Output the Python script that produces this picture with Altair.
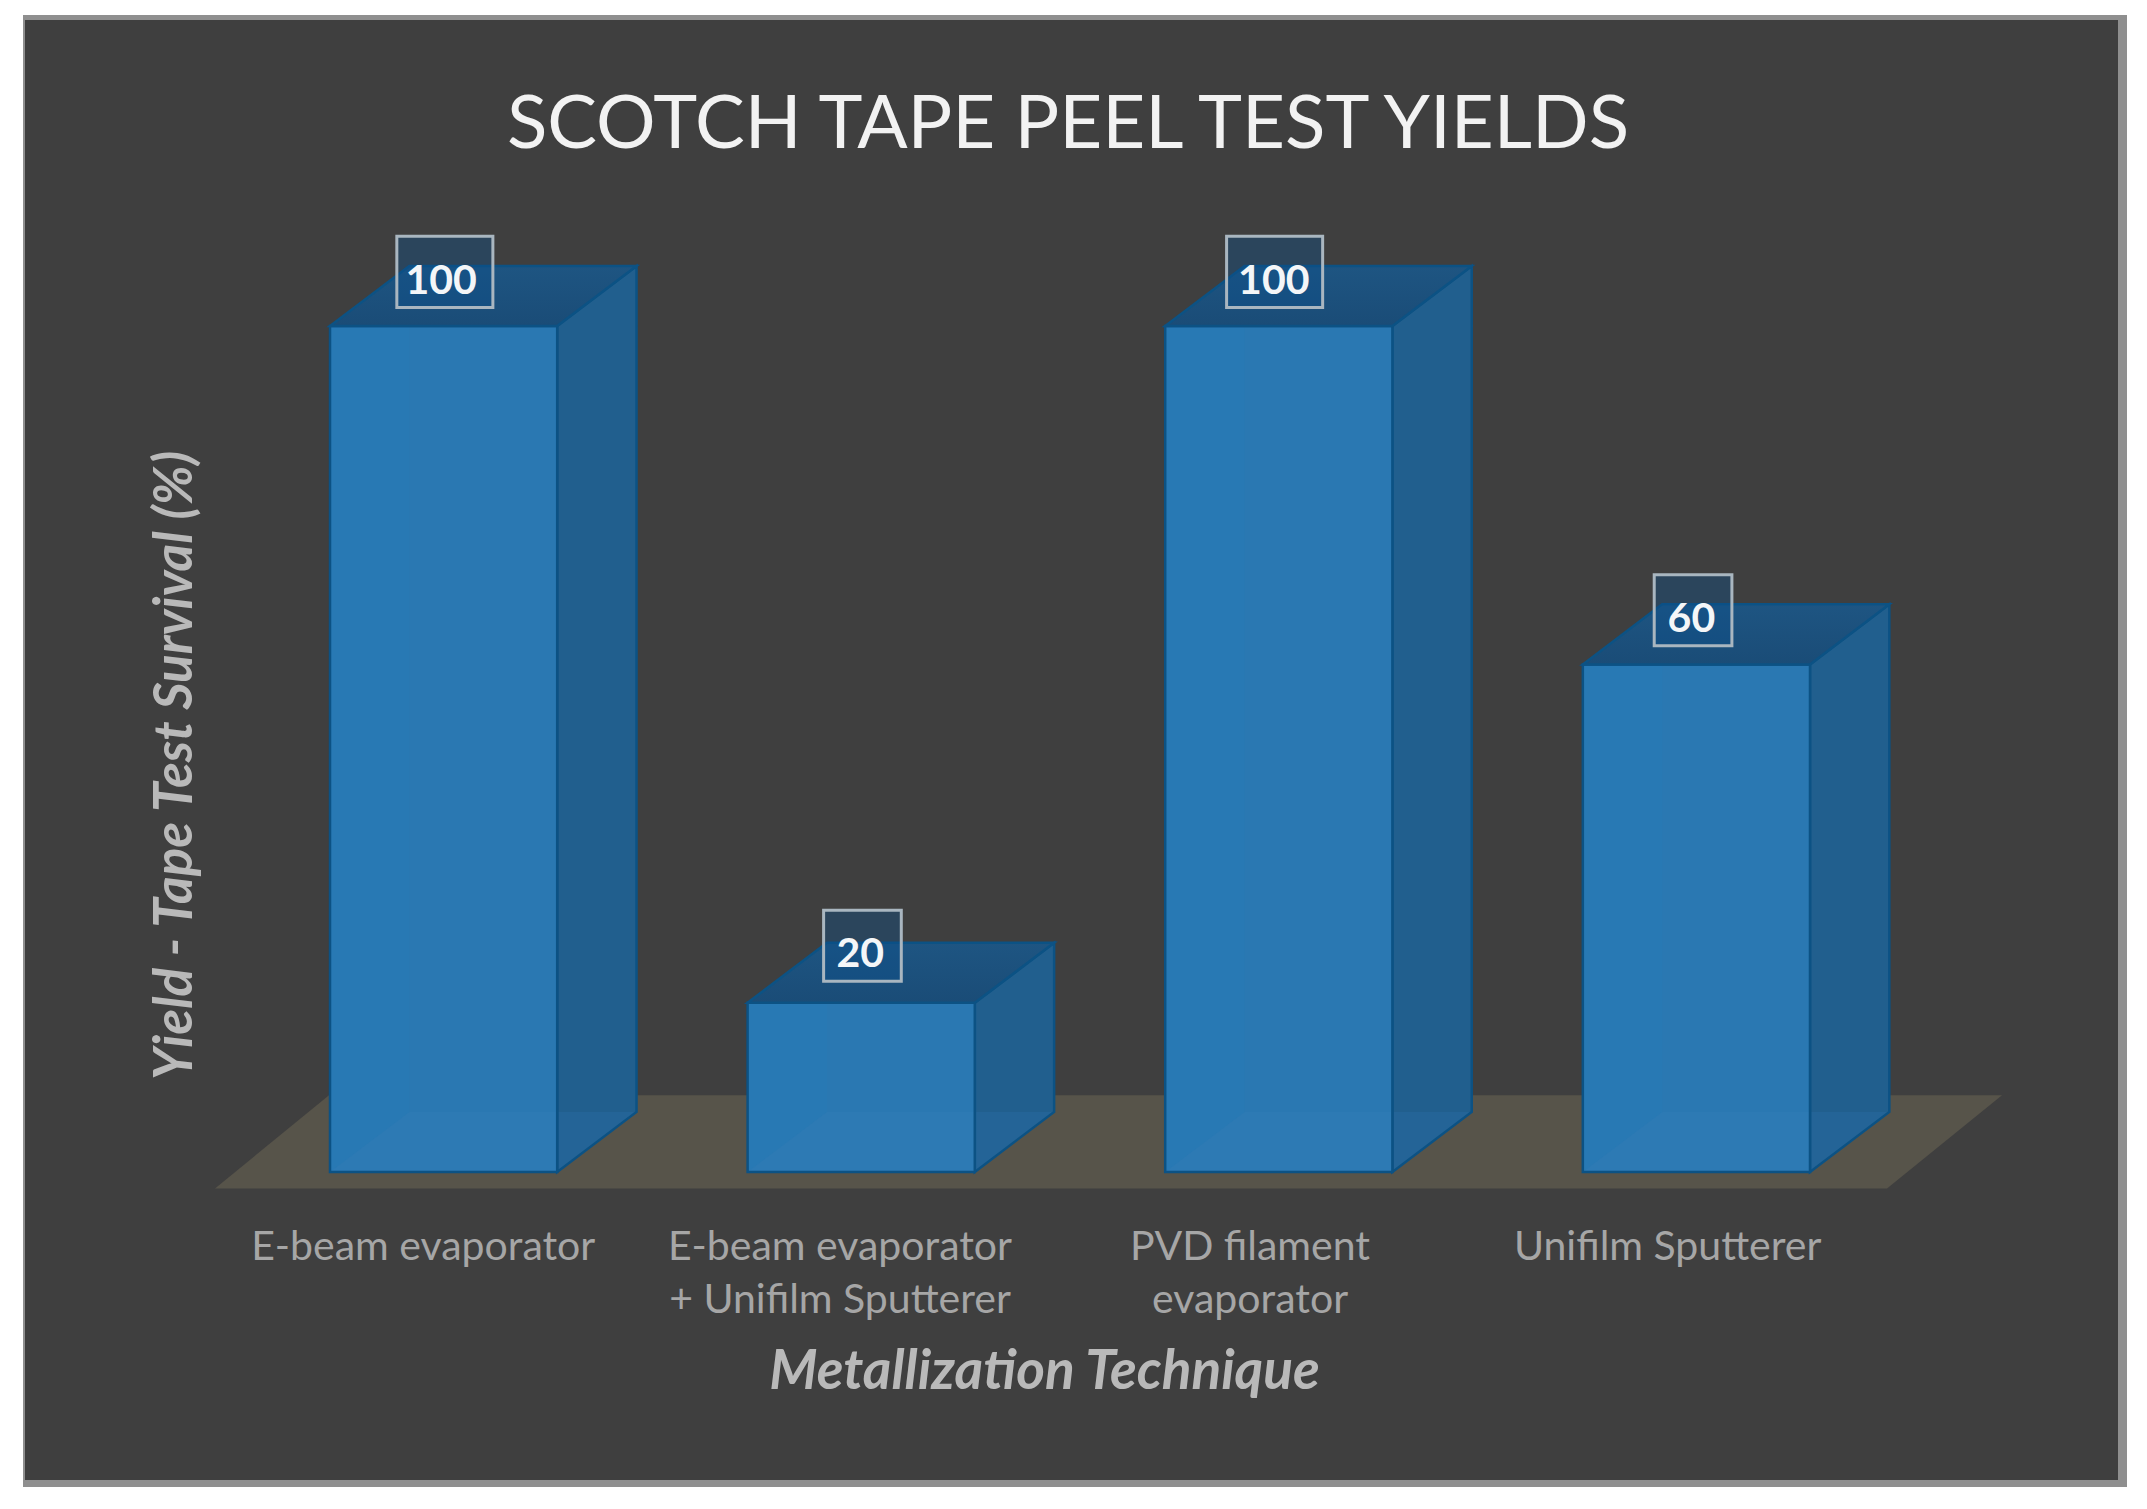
import altair as alt
import pandas as pd

categories = ["E-beam evaporator", "E-beam evaporator\n+ Unifilm Sputterer", "PVD filament\nevaporator", "Unifilm Sputterer"]
values = [100, 20, 100, 60]
y_title = "Yield - Tape Test Survival (%)"
x_title = "Metallization Technique"
chart_title = "SCOTCH TAPE PEEL TEST YIELDS"

# geometry of the fake 3D bars, in data units
HW = 0.272      # half width of a bar (category units)
DX = 0.19       # depth in x
DY = 7.1        # depth in y
# pixel-to-data relation of the frame
X0, XU = 443.6, 417.6
Y0, YU = 1172.0, 8.46
to_x = lambda p: (p - X0) / XU
to_y = lambda p: (Y0 - p) / YU

xs = alt.Scale(domain=[to_x(23), to_x(2127)], nice=False, zero=False)
ys = alt.Scale(domain=[to_y(1487), to_y(15)], nice=False, zero=False)

box_shift = [0.003, 0.003, -0.01, -0.008]
text_shift = [-0.006, -0.002, -0.012, -0.012]
label_lift = [0.0, -0.35, 0.0, 0.0]

front, strip, bottom, side, side_low, top, box, lab = [], [], [], [], [], [], [], []
for i, (c, v) in enumerate(zip(categories, values)):
    front.append(dict(x=i - HW, x2=i + HW, y=v, y2=0))
    strip.append(dict(x=i - HW, x2=i - HW + DX, y=v, y2=0))
    bottom += [dict(id=i, y=0, x=i - HW, x2=i + HW), dict(id=i, y=DY, x=i - HW + DX, x2=i + HW)]
    side += [dict(id=i, x=i + HW, y=v, y2=0), dict(id=i, x=i + HW + DX, y=v + DY, y2=DY)]
    side_low += [dict(id=i, x=i + HW, y=DY, y2=0), dict(id=i, x=i + HW + DX, y=DY, y2=DY)]
    top += [dict(id=i, y=v, x=i - HW, x2=i + HW), dict(id=i, y=v + DY, x=i - HW + DX, x2=i + HW + DX)]
    half = (0.115 if v == 100 else 0.093)
    box.append(dict(x=i + box_shift[i] - half, x2=i + box_shift[i] + half,
                    y=v + 2.2 - label_lift[i], y2=v + 10.6 - label_lift[i]))
    lab.append(dict(x=i + text_shift[i], y=v + 5.2 - 1.2 * label_lift[i], label=str(v)))

floor = [dict(y=-1.94, x=to_x(215), x2=to_x(1887)), dict(y=9.06, x=to_x(329), x2=to_x(2002))]
panel = [dict(x=to_x(25), x2=to_x(2118), y=to_y(20), y2=to_y(1480))]
label_pos = [-0.05, 0.948, 1.93, 2.93]

label_expr = "split([" + ",".join("'" + c.replace("\n", "\\n") + "'" for c in categories) + "][round(datum.value)], '\\n')"

x_axis = alt.Axis(
    values=label_pos, labelExpr=label_expr, grid=False, domain=False, ticks=False,
    offset=-260, labelPadding=0, labelBaseline="top", labelFont="Lato", labelFontSize=41, labelLimit=600,
    labelColor="#a6a6a6", labelLineHeight=53, labelOverlap=False, labelFlush=False, zindex=1,
    title=x_title, titleFont="Lato", titleFontSize=55, titleFontStyle="italic", titleFontWeight="bold",
    titleColor="#b9b9b9", titleX=1021, titleY=144, titleBaseline="middle", titleAnchor="middle", titleLimit=1000)
y_axis = alt.Axis(
    values=[0], labels=False, grid=False, domain=False, ticks=False, offset=-152, zindex=1,
    title=y_title, titleFont="Lato", titleFontSize=53, titleFontStyle="italic", titleFontWeight="bold",
    titleColor="#b9b9b9", titleX=0, titleY=750, titleAnchor="middle", titleBaseline="middle", titleAngle=-90, titleLimit=1000)

X = alt.X("x:Q", scale=xs, axis=x_axis)
Y = alt.Y("y:Q", scale=ys, axis=y_axis, stack=None)
X2 = alt.X2("x2:Q")
Y2 = alt.Y2("y2:Q")
EDGE = "#0c5284"

panel_l = alt.Chart(pd.DataFrame(panel)).mark_rect(color="#3f3f3f").encode(x=X, x2=X2, y=Y, y2=Y2)
floor_l = alt.Chart(pd.DataFrame(floor)).mark_area(orient="horizontal", color="#57544a").encode(x=X, x2=X2, y=Y)
side_l = alt.Chart(pd.DataFrame(side)).mark_area(color="#215f8e").encode(x=X, y=Y, y2=Y2, detail="id:N")
side_low_l = alt.Chart(pd.DataFrame(side_low)).mark_area(color="#246497").encode(x=X, y=Y, y2=Y2, detail="id:N")
side_edge = alt.Chart(pd.DataFrame(side)).mark_area(fillOpacity=0, stroke=EDGE, strokeWidth=2.5).encode(x=X, y=Y, y2=Y2, detail="id:N")
top_l = alt.Chart(pd.DataFrame(top)).mark_area(
    orient="horizontal", stroke=EDGE, strokeWidth=2.5,
    color=alt.Gradient(gradient="linear", x1=0, x2=0, y1=0, y2=1, stops=[
        alt.GradientStop(offset=0, color="#1e5582"), alt.GradientStop(offset=1, color="#1a4c77")]),
).encode(x=X, x2=X2, y=Y, detail="id:N")
front_l = alt.Chart(pd.DataFrame(front)).mark_rect(color="#2a78b2").encode(x=X, x2=X2, y=Y, y2=Y2)
front_edge = alt.Chart(pd.DataFrame(front)).mark_rect(fillOpacity=0, stroke=EDGE, strokeWidth=2.5).encode(x=X, x2=X2, y=Y, y2=Y2)
strip_l = alt.Chart(pd.DataFrame(strip)).mark_rect(color="#2879b4").encode(x=X, x2=X2, y=Y, y2=Y2)
bottom_l = alt.Chart(pd.DataFrame(bottom)).mark_area(orient="horizontal", color="#2d7ab4").encode(x=X, x2=X2, y=Y, detail="id:N")
box_l = alt.Chart(pd.DataFrame(box)).mark_rect(color="#0a4f8c", opacity=0.38).encode(x=X, x2=X2, y=Y, y2=Y2)
box_s = alt.Chart(pd.DataFrame(box)).mark_rect(fillOpacity=0, stroke="#a9b6c0", strokeWidth=3).encode(x=X, x2=X2, y=Y, y2=Y2)
lab_l = alt.Chart(pd.DataFrame(lab)).mark_text(font="Lato", fontSize=41, fontWeight="bold", color="#f4f6f8", baseline="middle").encode(x=X, y=Y, text="label:N")

chart = alt.layer(panel_l, floor_l, side_l, side_low_l, side_edge, front_l, strip_l, bottom_l, front_edge, top_l, box_l, box_s, lab_l).properties(
    width=2104, height=1472,
    title=alt.TitleParams(chart_title, font="Lato", fontSize=74.5, fontWeight="normal", color="#f2f2f2",
                          anchor="middle", offset=-148, dx=-7),
    padding={"left": 15, "top": 7, "right": 10, "bottom": 8},
    autosize=alt.AutoSizeParams(type="none"),
    background="#ffffff",
).configure_view(fill="#8f8f8f", stroke=None)

chart.save("out.html", embed_options={"renderer": "svg", "actions": False})
